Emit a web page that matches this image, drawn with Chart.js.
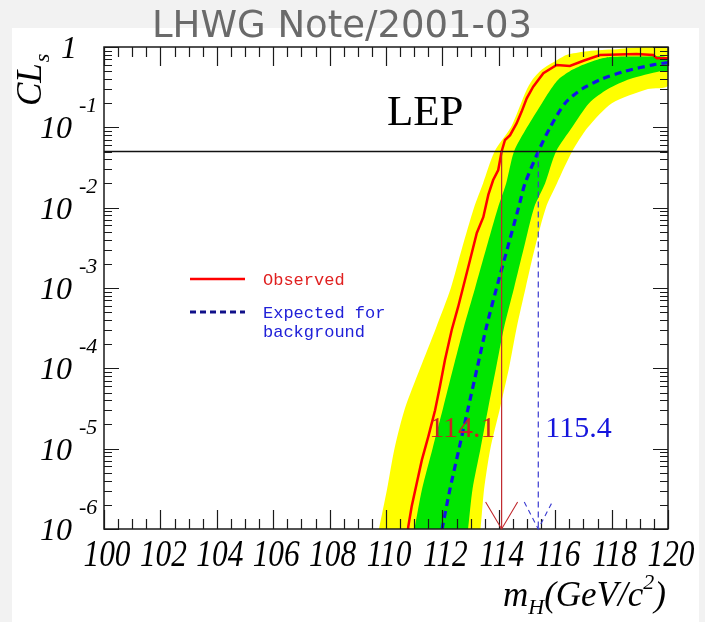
<!DOCTYPE html>
<html>
<head>
<meta charset="utf-8">
<script src="https://cdn.jsdelivr.net/npm/chart.js@4.4.0/dist/chart.umd.min.js"></script>
<style>
  html, body { margin: 0; padding: 0; background: #f2f2f2; }
  #wrap { width: 705px; height: 622px; position: relative; }
  canvas { display: block; }
</style>
</head>
<body>
<div id="wrap"><canvas id="cls" width="705" height="622"></canvas></div>
<script>
// Higgs boson mass (GeV/c^2) and CLs along each curve
const obsMass = [110.73, 110.79, 110.91, 111.09, 111.27, 111.50, 111.74, 111.91, 112.09, 112.33, 112.56, 112.80, 112.98, 113.22, 113.45, 113.63, 113.80, 113.98, 114.10, 114.22, 114.40, 114.63, 114.81, 114.99, 115.22, 115.58, 116.05, 116.52, 117.00, 117.59, 118.89, 119.48, 119.60, 120.00];
const obsCLs  = [7e-7, 1.07e-6, 1.9e-6, 3.7e-6, 7.2e-6, 1.41e-5, 3.0e-5, 5.9e-5, 1.27e-4, 3.0e-4, 5.85e-4, 1.26e-3, 2.23e-3, 4.84e-3, 7.6e-3, 1.45e-2, 2.21e-2, 2.94e-2, 0.05, 0.0696, 0.080, 0.112, 0.157, 0.230, 0.321, 0.471, 0.597, 0.580, 0.675, 0.795, 0.818, 0.795, 0.723, 0.723];

const expMass = [111.92, 111.99, 112.27, 112.59, 112.91, 113.23, 113.55, 113.92, 114.31, 114.70, 114.93, 115.40, 115.82, 116.35, 116.95, 117.66, 118.48, 119.47, 120.00];
const expCLs  = [7e-7, 1e-6, 3.16e-6, 1e-5, 3.16e-5, 1e-4, 3.16e-4, 1e-3, 3.16e-3, 0.01, 0.02, 0.05, 0.1, 0.2, 0.3, 0.4, 0.5, 0.6, 0.64];

// +-1 sigma band edges (green)
const sig1HiMass = [110.92, 111.01, 111.28, 111.65, 112.02, 112.38, 112.75, 113.16, 113.56, 113.97, 114.26, 114.54, 115.00, 115.53, 115.85, 116.13, 116.52, 116.99, 117.52, 117.94, 119.00, 120.00];
const sig1HiCLs  = [7e-7, 1e-6, 3.16e-6, 1e-5, 3.16e-5, 1e-4, 3.16e-4, 1e-3, 3.16e-3, 0.01, 0.02, 0.05, 0.1, 0.2, 0.3, 0.4, 0.5, 0.6, 0.7, 0.75, 0.76, 0.74];
const sig1LoMass = [112.84, 112.91, 113.07, 113.35, 113.62, 113.90, 114.18, 114.54, 114.89, 115.25, 115.64, 116.03, 116.60, 117.20, 117.87, 118.65, 119.72, 120.00];
const sig1LoCLs  = [7e-7, 1e-6, 3.16e-6, 1e-5, 3.16e-5, 1e-4, 3.16e-4, 1e-3, 3.16e-3, 0.01, 0.02, 0.05, 0.1, 0.2, 0.3, 0.4, 0.5, 0.51];

// +-2 sigma band edges (yellow)
const sig2HiMass = [109.65, 109.75, 110.04, 110.30, 110.67, 111.21, 111.77, 112.30, 112.70, 113.12, 113.44, 113.85, 114.43, 114.79, 115.00, 115.21, 115.46, 115.78, 116.10, 116.42, 117.06, 118.00, 120.00];
const sig2HiCLs  = [7e-7, 1e-6, 3.16e-6, 1e-5, 3.16e-5, 1e-4, 3.16e-4, 1e-3, 3.16e-3, 0.01, 0.02, 0.05, 0.1, 0.2, 0.3, 0.4, 0.5, 0.6, 0.7, 0.8, 0.88, 0.93, 0.95];
const sig2LoMass = [113.27, 113.35, 113.48, 113.70, 114.04, 114.36, 114.63, 114.95, 115.28, 115.67, 116.06, 116.60, 117.16, 118.01, 119.29, 120.00];
const sig2LoCLs  = [7e-7, 1e-6, 3.16e-6, 1e-5, 3.16e-5, 1e-4, 3.16e-4, 1e-3, 3.16e-3, 0.01, 0.02, 0.05, 0.1, 0.2, 0.3, 0.33];

// 95% CL threshold and the resulting lower mass limits
const clsThreshold = 0.05;
const obsLimit = 114.1;
const expLimit = 115.4;

// axis tick labels
const massTicks = [100, 102, 104, 106, 108, 110, 112, 114, 116, 118, 120];
const clsDecades = [0, -1, -2, -3, -4, -5, -6];

const pts = (m, v) => m.map((x, i) => ({ x: x, y: v[i] }));
// closed band outline: upper edge left->right, lower edge right->left
const band = (hm, hv, lm, lv) => pts(hm, hv).concat(pts(lm, lv).reverse());

const SERIF = '"Liberation Serif", "Times New Roman", serif';

function txt(ctx, s, x, y, font, color, align, base, sx, sy) {
  ctx.save();
  ctx.font = font;
  ctx.fillStyle = color;
  ctx.textAlign = align || 'left';
  ctx.textBaseline = base || 'alphabetic';
  ctx.translate(x, y);
  ctx.scale(sx || 1, sy || 1);
  ctx.fillText(s, 0, 0);
  ctx.restore();
}

const backdrop = {
  id: 'backdrop',
  beforeDraw(chart) {
    const ctx = chart.ctx;
    ctx.save();
    ctx.fillStyle = '#f2f2f2';
    ctx.fillRect(0, 0, chart.width, chart.height);
    ctx.fillStyle = '#ffffff';
    ctx.fillRect(12, 28, 687, 594);
    ctx.restore();
  }
};

const frame = {
  id: 'frame',
  afterDraw(chart) {
    const ctx = chart.ctx;
    const xs = chart.scales.x, ys = chart.scales.y;
    const a = chart.chartArea;

    // frame
    ctx.save();
    ctx.strokeStyle = '#1a1a1a';
    ctx.lineWidth = 1.5;
    ctx.strokeRect(a.left, a.top, a.right - a.left, a.bottom - a.top);

    // mass ticks (bottom and top, pointing inward)
    ctx.lineWidth = 1.2;
    ctx.beginPath();
    for (let m = 100; m <= 120.001; m += 0.5) {
      const px = Math.round(xs.getPixelForValue(m)) + 0.5;
      const len = (Math.abs(m / 2 - Math.round(m / 2)) < 1e-6) ? 19 : 10;
      ctx.moveTo(px, a.bottom); ctx.lineTo(px, a.bottom - len);
      ctx.moveTo(px, a.top); ctx.lineTo(px, a.top + len);
    }
    // CLs ticks (left and right, log spaced)
    for (const e of clsDecades) {
      const py = Math.round(ys.getPixelForValue(Math.pow(10, e))) + 0.5;
      ctx.moveTo(a.left, py); ctx.lineTo(a.left + 15, py);
      ctx.moveTo(a.right, py); ctx.lineTo(a.right - 15, py);
      if (e > -6) {
        for (let k = 2; k <= 9; k++) {
          const qy = Math.round(ys.getPixelForValue(k * Math.pow(10, e - 1))) + 0.5;
          ctx.moveTo(a.left, qy); ctx.lineTo(a.left + 8, qy);
          ctx.moveTo(a.right, qy); ctx.lineTo(a.right - 8, qy);
        }
      }
    }
    ctx.stroke();
    ctx.restore();

    // mass tick labels
    for (const m of massTicks) {
      txt(ctx, String(m), xs.getPixelForValue(m) + 3, 566, 'italic 33px ' + SERIF, '#000', 'center', 'alphabetic', 0.95, 1.12);
    }
    // CLs tick labels
    for (const e of clsDecades) {
      const py = ys.getPixelForValue(Math.pow(10, e));
      if (e === 0) {
        txt(ctx, '1', 77, py + 11, 'italic 32px ' + SERIF, '#000', 'right');
      } else {
        txt(ctx, '10', 72, py + 11, 'italic 32px ' + SERIF, '#000', 'right');
        txt(ctx, String(e), 79, py - 15, 'italic 22px ' + SERIF, '#000', 'left');
      }
    }

    // y title: CL_s, rotated
    ctx.save();
    ctx.translate(41, 106);
    ctx.rotate(-Math.PI / 2);
    ctx.fillStyle = '#000';
    ctx.font = 'italic 35px ' + SERIF;
    ctx.textBaseline = 'alphabetic';
    ctx.fillText('CL', 0, 0);
    const wcl = ctx.measureText('CL').width;
    ctx.font = 'italic 22px ' + SERIF;
    ctx.fillText('s', wcl + 1, 8);
    ctx.restore();

    // x title: m_H(GeV/c^2)
    ctx.save();
    ctx.fillStyle = '#000';
    ctx.textBaseline = 'alphabetic';
    let cx = 503;
    const big = 'italic 35px ' + SERIF, small = 'italic 22px ' + SERIF;
    const put = (s, font, dy) => { ctx.font = font; ctx.fillText(s, cx, 606 + dy); cx += ctx.measureText(s).width; };
    put('m', big, 0); put('H', small, 8); put('(GeV/c', big, 0); put('2', small, -17); put(')', big, 0);
    ctx.restore();

    // experiment label
    txt(ctx, 'LEP', 387, 125, '43px ' + SERIF, '#000', 'left');

    // limit arrows
    const ox = xs.getPixelForValue(obsLimit), ex = xs.getPixelForValue(expLimit);
    ctx.save();
    ctx.lineWidth = 1.1;
    ctx.strokeStyle = '#c0282d';
    ctx.beginPath();
    ctx.moveTo(ox - 16, a.bottom - 27); ctx.lineTo(ox, a.bottom); ctx.lineTo(ox + 16, a.bottom - 27);
    ctx.stroke();
    ctx.strokeStyle = '#3a3ad0';
    ctx.setLineDash([5, 4]);
    ctx.beginPath();
    ctx.moveTo(ex - 14, a.bottom - 27); ctx.lineTo(ex, a.bottom); ctx.lineTo(ex + 14, a.bottom - 27);
    ctx.stroke();
    ctx.restore();

    // limit values
    txt(ctx, obsLimit.toFixed(1), ox - 6, 437, '30px ' + SERIF, '#c82424', 'right');
    txt(ctx, expLimit.toFixed(1), ex + 7, 437, '30px ' + SERIF, '#1515dd', 'left');

    // legend
    const ds = chart.data.datasets;
    const obs = ds.find(d => d.label === 'Observed');
    const exp = ds.find(d => d.label === 'Expected for background');
    ctx.save();
    ctx.lineWidth = 2.5;
    ctx.strokeStyle = obs.borderColor;
    ctx.beginPath(); ctx.moveTo(190, 279); ctx.lineTo(245, 279); ctx.stroke();
    ctx.lineWidth = 3;
    ctx.strokeStyle = '#10108a';
    ctx.setLineDash([6, 4]);
    ctx.beginPath(); ctx.moveTo(190, 312); ctx.lineTo(245, 312); ctx.stroke();
    ctx.restore();
    const mono = '17px "Liberation Mono", "DejaVu Sans Mono", monospace';
    txt(ctx, obs.label, 263, 285, mono, '#e02020', 'left');
    const words = exp.label.split(' ');
    txt(ctx, words.slice(0, 2).join(' '), 263, 318, mono, '#2020d8', 'left');
    txt(ctx, words.slice(2).join(' '), 263, 337, mono, '#2020d8', 'left');

    // note header
    txt(ctx, 'LHWG Note/2001-03', 342, 37, '37px "DejaVu Sans", sans-serif', '#6a6a6a', 'center');
  }
};

new Chart(document.getElementById('cls'), {
  type: 'line',
  data: {
    datasets: [
      { label: '2 sigma', data: band(sig2HiMass, sig2HiCLs, sig2LoMass, sig2LoCLs), fill: 'shape', tension: 0.25,
        backgroundColor: '#ffff00', borderColor: 'rgba(0,0,0,0)', borderWidth: 0, pointRadius: 0, order: 6 },
      { label: '1 sigma', data: band(sig1HiMass, sig1HiCLs, sig1LoMass, sig1LoCLs), fill: 'shape', tension: 0.25,
        backgroundColor: '#00e600', borderColor: 'rgba(0,0,0,0)', borderWidth: 0, pointRadius: 0, order: 5 },
      { label: 'Expected for background', data: pts(expMass, expCLs), fill: false, tension: 0.25,
        borderColor: '#1414e6', borderWidth: 3.2, borderDash: [7, 5], pointRadius: 0, order: 4 },
      { label: 'Observed', data: pts(obsMass, obsCLs), fill: false,
        borderColor: '#ff0000', borderWidth: 2.5, pointRadius: 0, order: 3 },
      { label: 'threshold', data: [{ x: 100, y: clsThreshold }, { x: 120, y: clsThreshold }], fill: false,
        borderColor: '#111111', borderWidth: 1.3, pointRadius: 0, order: 2 },
      { label: 'observed limit', data: [{ x: obsLimit, y: clsThreshold }, { x: obsLimit, y: 1e-6 }], fill: false,
        borderColor: '#c0282d', borderWidth: 1.2, pointRadius: 0, order: 1 },
      { label: 'expected limit', data: [{ x: expLimit, y: clsThreshold }, { x: expLimit, y: 1e-6 }], fill: false,
        borderColor: '#3a3ad0', borderWidth: 1.2, borderDash: [6, 4], pointRadius: 0, order: 1 }
    ]
  },
  options: {
    responsive: false,
    animation: false,
    devicePixelRatio: 1,
    layout: { padding: { left: 104, right: 37, top: 47, bottom: 93 } },
    elements: { line: { tension: 0, capBezierPoints: false } },
    scales: {
      x: { type: 'linear', min: 100, max: 120, display: false },
      y: { type: 'logarithmic', min: 1e-6, max: 1, display: false }
    },
    plugins: { legend: { display: false }, tooltip: { enabled: false }, title: { display: false } }
  },
  plugins: [backdrop, frame]
});
</script>
</body>
</html>
